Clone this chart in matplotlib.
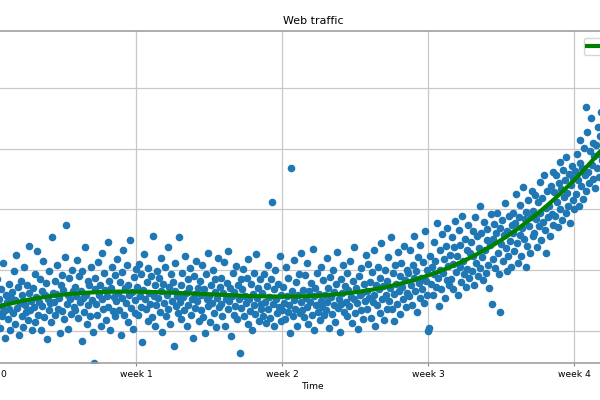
import matplotlib
matplotlib.use("Agg")
import matplotlib.pyplot as plt
import numpy as np

# hits per hour, one row per day (day by day)
hits_by_day = [
    [1210, 1580, 1390, 960, 1720, 1450, 1130, 1860, 1300, 1520, 1050, 1690, 1410, 1240, 2120, 1330, 880, 1600, 1470, 1190, 1780, 1360, 1020, 1550],
    [1640, 1290, 1980, 1120, 1510, 2250, 1380, 1720, 940, 1460, 1830, 1250, 1590, 1070, 2060, 1420, 1310, 1750, 1180, 1620, 2400, 1350, 1490, 1010],
    [1700, 1390, 1140, 1930, 1560, 2310, 1270, 1480, 1850, 1020, 1660, 1410, 2150, 1230, 1590, 1790, 870, 1520, 1350, 1980, 1460, 1150, 2540, 1630],
    [1480, 1820, 1260, 1610, 2090, 1370, 1540, 960, 1750, 1920, 1330, 1680, 1190, 2220, 2745, 1450, 1590, 1040, 1870, 1520, 1280, 2010, 1660, 1400],
    [1730, 1350, 1580, 2170, 1220, 1900, 1470, 1650, 830, 1990, 1540, 1310, 2380, 1600, 1120, 1820, 1430, 1760, 1250, 2060, 1510, 980, 473, 1690],
    [1880, 1440, 1260, 2130, 1600, 1750, 1090, 2290, 1520, 1370, 1960, 1680, 1180, 1570, 2460, 1400, 1830, 1010, 1710, 2050, 1330, 1560, 1920, 1240],
    [1490, 2180, 1620, 1350, 1800, 940, 1970, 1550, 2330, 1270, 1700, 1460, 2080, 1150, 1760, 1590, 2500, 1380, 1640, 1030, 1890, 1510, 1300, 2020],
    [1720, 1260, 2110, 1580, 1400, 1940, 820, 1680, 2270, 1530, 1360, 1810, 1170, 2040, 1620, 1450, 1900, 1230, 2560, 1570, 1080, 1750, 1430, 1990],
    [1540, 1870, 1310, 2200, 1650, 980, 1780, 1460, 2050, 1240, 1600, 2380, 1370, 1720, 1120, 1930, 1500, 1810, 760, 1660, 2120, 1410, 1580, 1290],
    [2550, 1480, 1750, 1200, 1960, 1560, 1340, 2230, 1630, 1090, 1850, 1420, 1700, 2040, 1270, 1530, 880, 1900, 1610, 1380, 2150, 1490, 1710, 1160],
    [1820, 1350, 1600, 2090, 1230, 1690, 960, 1940, 1520, 1410, 2280, 1570, 1140, 1760, 1460, 2010, 1300, 1640, 1850, 1060, 1550, 2200, 1390, 1720],
    [1440, 1880, 1250, 1620, 2130, 1080, 1530, 1790, 1360, 2310, 1490, 1700, 920, 1580, 1950, 1270, 1640, 1410, 2070, 1190, 1750, 1520, 640, 1860],
    [1380, 1690, 2020, 1240, 1580, 1460, 1870, 1120, 2190, 1520, 1330, 1770, 1010, 1610, 1950, 1430, 1280, 2260, 1540, 1700, 1170, 1860, 1450, 1360],
    [1620, 1250, 1940, 1480, 1130, 1740, 2080, 1370, 1560, 1220, 1850, 3123, 1450, 1690, 1090, 2010, 1530, 1300, 1780, 1400, 2240, 1160, 1600, 1340],
    [1720, 1460, 1190, 2050, 1570, 1310, 1880, 1420, 960, 3683, 1650, 1240, 2170, 1510, 1370, 1800, 1080, 1590, 1940, 1290, 1470, 2280, 1350, 1680],
    [1230, 1920, 1540, 1390, 2120, 1110, 1660, 1480, 1790, 1270, 2350, 1580, 1020, 1710, 1430, 1960, 1320, 1610, 1180, 2050, 1500, 1400, 1840, 1260],
    [1590, 1350, 2200, 1470, 1700, 1050, 1890, 1560, 1280, 2010, 1420, 1640, 1150, 1780, 2300, 1380, 1530, 990, 1860, 1450, 1620, 2090, 1310, 1740],
    [1480, 1960, 1240, 1670, 1410, 2150, 1560, 1130, 1820, 1530, 2380, 1300, 1710, 1460, 1040, 1900, 1590, 1350, 2040, 1620, 1200, 1780, 1490, 2250],
    [1650, 1370, 2100, 1540, 1810, 1220, 1970, 1480, 2330, 1600, 1090, 1760, 1420, 2060, 1690, 1300, 1880, 2450, 1520, 1740, 1180, 2010, 1590, 1360],
    [1830, 2210, 1490, 1700, 2540, 1360, 1960, 1610, 1170, 2080, 1780, 1450, 2300, 1650, 1910, 1280, 2120, 1720, 1530, 2400, 1840, 1390, 2010, 1620],
    [1950, 1580, 2330, 1760, 1420, 2080, 1870, 2560, 1650, 1990, 1310, 2210, 1790, 1540, 2420, 1880, 1690, 2130, 1460, 2650, 1820, 2000, 1590, 1000],
    [1050, 2240, 1780, 2060, 1600, 2470, 1930, 2150, 1720, 2780, 1880, 1410, 2330, 2010, 1690, 2590, 1960, 2180, 1550, 2400, 1840, 2690, 2070, 1760],
    [2250, 1860, 2540, 2100, 1690, 2380, 2810, 1970, 2230, 1590, 2660, 2050, 2420, 1800, 2900, 2150, 1930, 2510, 1720, 2340, 2020, 2750, 1880, 2280],
    [2460, 1990, 2650, 2230, 1760, 2880, 2120, 2560, 1900, 2370, 3050, 2040, 2620, 2210, 1840, 2790, 2330, 1950, 2500, 2680, 2090, 1700, 2410, 2930],
    [1444, 2510, 2180, 2760, 2040, 2620, 2950, 2290, 1930, 2700, 1310, 2440, 2830, 2150, 2580, 3100, 2370, 1990, 2650, 2230, 2900, 2480, 2060, 2740],
    [2620, 2950, 2310, 2780, 3260, 2450, 2120, 2870, 2580, 3080, 2240, 2690, 3370, 2510, 2840, 2060, 2960, 2400, 3150, 2730, 2280, 2880, 3300, 2560],
    [2980, 2610, 3240, 2850, 2390, 3130, 2720, 3450, 2940, 2500, 3190, 2790, 3560, 2660, 3020, 2280, 3310, 2880, 3050, 2570, 3390, 2930, 3620, 2750],
    [3280, 2890, 3560, 3120, 2710, 3430, 3780, 3010, 3340, 2820, 3650, 3200, 3480, 2950, 3860, 3270, 3060, 3590, 2780, 3410, 3720, 3150, 3520, 3000],
    [3640, 3250, 3910, 3480, 3060, 3770, 4150, 3390, 3690, 3180, 4020, 3560, 4687, 3300, 4280, 3620, 3440, 3960, 4506, 3730, 4090, 3510, 3880, 3350],
    [4060, 3680, 4350, 3920, 3540, 4210, 4600, 3810, 4130, 3620, 4480, 3990, 4270, 3740, 4700, 4040, 3870, 4390, 3560, 4160, 4530, 3950, 4310, 3780],
    [4520, 4110, 4800, 4380, 3960, 4650, 5100, 4250, 4570, 4060, 4930, 4440, 4720, 4190, 5938, 4490, 4310, 4860, 4020, 4610, 5020, 4390, 4750],
]

week_ticks = [w * 7 * 24 for w in range(10)]
week_labels = ['week %i' % w for w in range(10)]

y = np.array([v for day in hits_by_day for v in day], dtype=float)
x = np.arange(1, len(y) + 1)

# polynomial model of degree 3, as in the original analysis
f3 = np.poly1d(np.polyfit(x, y, 3))
fx = np.linspace(0, x[-1], 1000)

fig = plt.figure(figsize=(6, 4), dpi=100)
# the reference is a crop: the axes run past the left and right edges
ax = fig.add_axes([-0.0162, 0.0925, 1.0762, 0.83])

ax.scatter(x, y, s=20, color='#1f77b4', zorder=2)
ax.plot(fx, f3(fx), color='green', lw=3, label='d=%i' % f3.order, zorder=3)

ax.set_title("Web traffic", fontsize=7.9, pad=5)
ax.set_xlabel("Time", fontsize=6.6, labelpad=2)
ax.set_ylabel("Hits/hour", fontsize=6.6)
ax.set_xticks(week_ticks)
ax.set_xticklabels(week_labels)
ax.set_yticks([1000, 2000, 3000, 4000, 5000, 6000])
ax.set_xlim(0, 743)
ax.set_ylim(473, 5938)
ax.tick_params(labelsize=6.6, length=2.5, pad=2.5, color='#888888')
ax.grid(True, color='#c8c8c8', lw=0.9, zorder=0)
ax.set_axisbelow(True)
for s in ax.spines.values():
    s.set_color('#a0a0a0')
    s.set_linewidth(1.2)
ax.legend(loc='upper left', bbox_to_anchor=(0.912, 0.992), fontsize=6.6,
          frameon=True, handlelength=2.2)

fig.savefig("out.png", dpi=100)
plt.close(fig)
